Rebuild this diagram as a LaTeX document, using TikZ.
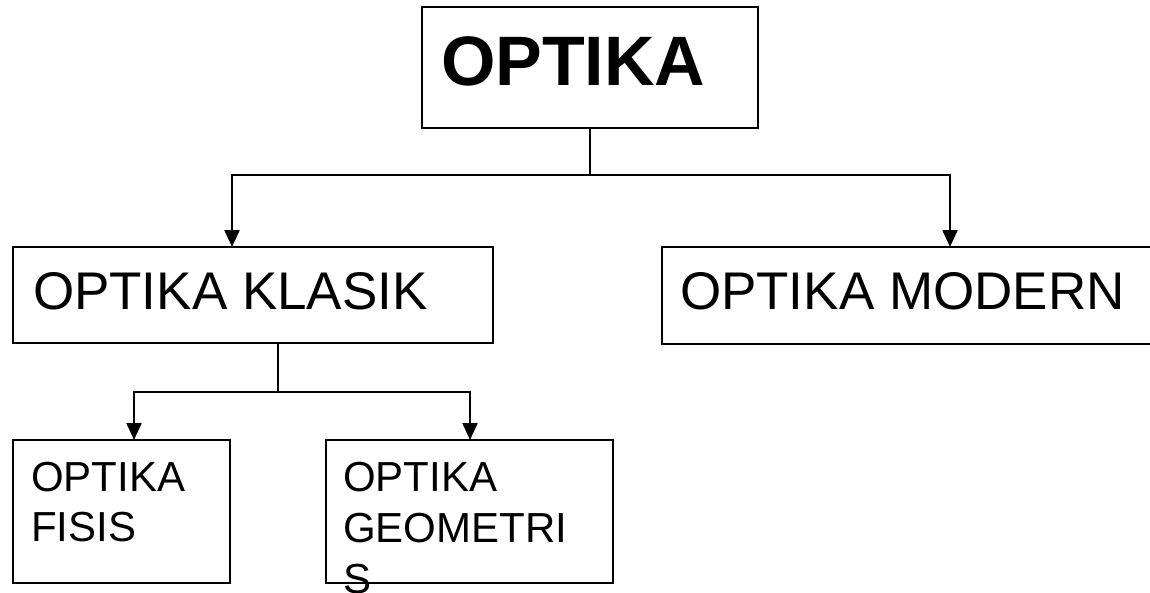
\documentclass[tikz,border=0pt]{standalone}
\usepackage{fontspec}
\setmainfont{Liberation Sans}
\usetikzlibrary{arrows.meta}
\begin{document}
\begin{tikzpicture}[x=1pt,y=-1pt,
  box/.style={draw, line width=2.4pt, inner sep=0pt, outer sep=0pt, anchor=north west},
  lbl/.style={inner sep=0pt, outer sep=0pt, anchor=base west},
  conn/.style={line width=2.2pt},
  arr/.style={line width=2.2pt, -{Triangle[length=17pt,width=15pt]}}]
\useasboundingbox (0,0) rectangle (1150,592);
\clip (0,0) rectangle (1150,592);
% boxes
\node[box, minimum width=336pt, minimum height=121pt] (o) at (422,7) {};
\node[box, minimum width=480pt, minimum height=96pt] (k) at (13,247) {};
\node[box, minimum width=503pt, minimum height=97pt] (m) at (662,247) {};
\node[box, minimum width=217pt, minimum height=143pt] (f) at (13,440) {};
\node[box, minimum width=287pt, minimum height=143pt] (g) at (326,440) {};
% texts (base anchor = baseline of the last line)
\node[lbl, font=\fontsize{70}{80}\selectfont\bfseries] (to) at (441,85) {OPTIKA};
\node[lbl, font=\fontsize{53}{60}\selectfont] (tk) at (33,309) {OPTIKA KLASIK};
\node[lbl, font=\fontsize{53}{60}\selectfont] (tm) at (680,309) {OPTIKA MODERN};
\node[lbl, font=\fontsize{42}{50.5}\selectfont, align=left] (tf) at (31,541.5) {OPTIKA\\FISIS};
\node[lbl, font=\fontsize{42}{51}\selectfont, align=left] (tg) at (343,593) {OPTIKA\\GEOMETRI\\S};
% connectors
\coordinate (h1) at (590,175);
\coordinate (xa) at (232,0);
\coordinate (xb) at (950,0);
\draw[conn] (o.south) -- (h1);
\draw[arr] (h1) -| (k.north -| xa);
\draw[arr] (h1) -| (m.north -| xb);
\coordinate (h2) at (278,392);
\coordinate (xc) at (134,0);
\coordinate (xd) at (470,0);
\draw[conn] (k.south -| h2) -- (h2);
\draw[arr] (h2) -| (f.north -| xc);
\draw[arr] (h2) -| (g.north -| xd);
\end{tikzpicture}
\end{document}
